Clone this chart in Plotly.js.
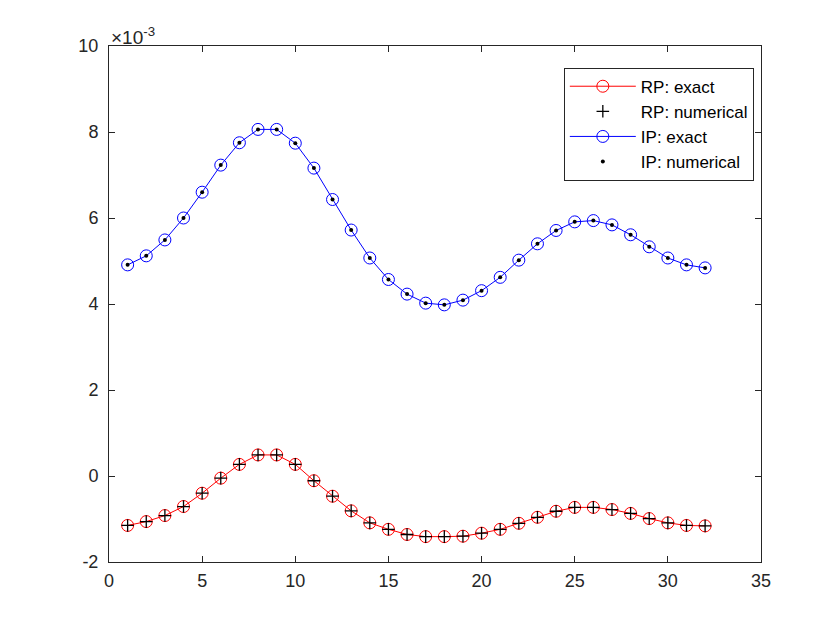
<!DOCTYPE html>
<html>
<head>
<meta charset="utf-8">
<script src="https://cdn.plot.ly/plotly-3.0.1.min.js"></script>
<style>html,body{margin:0;padding:0;background:#fff;}#chart{width:840px;height:630px;}</style>
</head>
<body>
<div id="chart"></div>
<script>
// x positions (index)
const xIndex = [1,2,3,4,5,6,7,8,9,10,11,12,13,14,15,16,17,18,19,20,21,22,23,24,25,26,27,28,29,30,31,32];
// values in units of 1e-3
const rpExact = [-1.15,-1.06,-0.92,-0.71,-0.40,-0.05,0.27,0.49,0.49,0.27,-0.11,-0.47,-0.81,-1.09,-1.24,-1.36,-1.41,-1.41,-1.40,-1.33,-1.24,-1.10,-0.96,-0.82,-0.73,-0.73,-0.78,-0.87,-0.99,-1.09,-1.15,-1.16];
const rpNumerical = rpExact.slice();
const ipExact = [4.91,5.12,5.49,6.00,6.60,7.23,7.75,8.06,8.06,7.74,7.16,6.43,5.72,5.07,4.57,4.23,4.02,3.98,4.09,4.31,4.62,5.02,5.40,5.71,5.91,5.94,5.84,5.61,5.33,5.07,4.91,4.84];
const ipNumerical = ipExact.slice();
const xTicks = [0,5,10,15,20,25,30,35];
const yTicks = [-2,0,2,4,6,8,10];

const FONT = 'Liberation Sans, Arial, sans-serif';

const traces = [
  {x:xIndex, y:rpExact, name:'RP: exact', mode:'lines+markers', legendgroup:'a',
   line:{color:'#ff0000', width:1},
   marker:{symbol:'circle-open', size:12, color:'#ff0000', line:{width:1, color:'#ff0000'}}},
  {x:xIndex, y:rpNumerical, name:'RP: numerical', mode:'markers', legendgroup:'b',
   marker:{symbol:'cross-thin-open', size:9, color:'#000000', line:{width:1.3, color:'#000000'}}},
  {x:xIndex, y:ipExact, name:'IP: exact', mode:'lines+markers', legendgroup:'c',
   line:{color:'#0000ff', width:1},
   marker:{symbol:'circle-open', size:12, color:'#0000ff', line:{width:1, color:'#0000ff'}}},
  {x:xIndex, y:ipNumerical, name:'IP: numerical', mode:'markers', legendgroup:'d',
   marker:{symbol:'circle', size:4, color:'#000000'}}
];

const axisCommon = {
  showgrid:false, zeroline:false, showline:true, mirror:'ticks',
  linecolor:'#262626', linewidth:1, ticks:'inside', ticklen:6, tickcolor:'#262626',
  tickfont:{family:FONT, size:18, color:'#262626'}
};

const layout = {
  width:840, height:630,
  margin:{l:109, r:79, t:46, b:68},
  paper_bgcolor:'#ffffff', plot_bgcolor:'#ffffff',
  showlegend:true,
  xaxis:Object.assign({}, axisCommon, {range:[0,35], tickvals:xTicks, ticktext:xTicks.map(String), ticklabelstandoff:2}),
  yaxis:Object.assign({}, axisCommon, {range:[-2,10], tickvals:yTicks, ticktext:yTicks.map(String), ticklabelstandoff:6}),
  legend:{x:0.989, y:0.958, xanchor:'right', yanchor:'top', bgcolor:'#ffffff',
    bordercolor:'#262626', borderwidth:1, traceorder:'grouped', tracegroupgap:0,
    itemwidth:66, entrywidth:135, entrywidthmode:'pixels',
    font:{family:FONT, size:17, color:'#000000'}},
  annotations:[{xref:'paper', yref:'paper', x:0, y:1, xanchor:'left', yanchor:'bottom', yshift:-4, xshift:0,
    text:'×10<sup>-3</sup>', showarrow:false,
    font:{family:FONT, size:19, color:'#262626'}}]
};

Plotly.newPlot('chart', traces, layout, {displayModeBar:false, staticPlot:true});
</script>
</body>
</html>
